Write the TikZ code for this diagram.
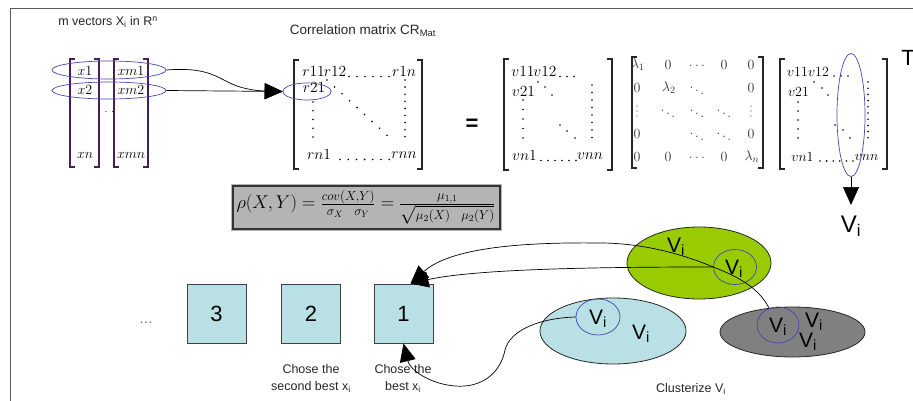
\documentclass[tikz,border=0pt]{standalone}
\usepackage{fix-cm}
\usepackage{amsmath}
\usepackage{fontspec}
\newfontfamily\arial{Liberation Sans}
\usetikzlibrary{arrows.meta,shapes.geometric,calc}
\definecolor{ellblue}{RGB}{70,70,170}
\definecolor{boxblue}{RGB}{185,224,228}
\definecolor{lgreen}{RGB}{153,204,0}
\definecolor{dgray}{RGB}{128,128,128}
\definecolor{fgray}{RGB}{180,180,180}
\definecolor{vecpurple}{RGB}{70,30,90}
\newcommand\mybrL[4]{\draw[#4] (#1+5,#2) -- (#1,#2) -- (#1,#3) -- (#1+5,#3);}
\newcommand\mybrR[4]{\draw[#4] (#1-5,#2) -- (#1,#2) -- (#1,#3) -- (#1-5,#3);}
\newcommand\mydot[2]{\fill (#1,#2) circle (0.9pt);}
\newcommand\smdot[2]{\fill[black!75] (#1,#2) circle (0.7pt);}
\tikzset{
  frame/.style={draw=black!65,line width=1.2pt},
  brk/.style={line width=1.7pt,black!85},
  thinbrk/.style={line width=1.3pt,black!85},
  vecbrk/.style={line width=1.1pt,vecpurple},
  blueell/.style={ellipse,draw=ellblue,line width=0.7pt,inner sep=0pt},
  bigell/.style={ellipse,draw=black!85,line width=0.8pt,inner sep=0pt},
  conn/.style={line width=0.7pt,black},
  bigtip/.style={-{Triangle[length=18pt,width=16pt]}},
  numbox/.style={draw=black!75,fill=boxblue,line width=1pt,minimum size=59pt,inner sep=0pt,font=\arial\fontsize{22}{24}\selectfont},
  vlab/.style={font=\arial\fontsize{21}{24}\selectfont,inner sep=0pt},
  lab/.style={font=\arial\fontsize{12.5}{17}\selectfont,align=center,inner sep=0pt,text=black!85},
  ent/.style={font=\fontsize{15.5}{16}\selectfont,inner sep=0pt},
  entb/.style={font=\fontsize{14}{15}\selectfont,inner sep=0pt},
  lam/.style={font=\fontsize{14}{15}\selectfont,inner sep=0pt,text=black!80},
}
\begin{document}
\begin{tikzpicture}[x=1pt,y=-1pt]
\useasboundingbox (0,0) rectangle (913,401);
\draw[frame] (913,8.5) -- (10.5,8.5) -- (10.5,401);

% ---------- left vectors ----------
\node[lab] (title1) at (108,22) {m vectors X\textsubscript{i} in R\textsuperscript{n}};
\mybrL{70}{59}{167}{vecbrk}
\mybrR{99}{59}{167}{vecbrk}
\mybrL{114}{59}{167}{vecbrk}
\mybrR{148}{59}{167}{vecbrk}
\node[entb] (x1) at (85,71) {$x$1};
\node[entb] (x2) at (85,90) {$x$2};
\node[entb] (xn) at (85,155) {$xn$};
\node[entb] (xm1) at (131,71) {$xm$1};
\node[entb] (xm2) at (131,90) {$xm$2};
\node[entb] (xmn) at (131,155) {$xmn$};
\node[inner sep=0pt] (vdots) at (106,112) {$\cdot\,\cdot\,\cdot$};
\node[blueell,minimum width=114pt,minimum height=18pt] (ve1) at (109,70) {};
\node[blueell,minimum width=114pt,minimum height=17pt] (ve2) at (109,90.5) {};

% ---------- correlation matrix ----------
\node[lab,font=\arial\fontsize{13.5}{16}\selectfont] (title2) at (363,31) {Correlation matrix CR\textsubscript{Mat}};
\mybrL{294}{60}{169}{brk}
\mybrR{422}{60}{169}{brk}
\node[ent] (r11) at (313.5,72) {$r11$};
\node[ent] (r12) at (335,72) {$r12$};
\node[ent] (r1n) at (404,72) {$r1n$};
\node[ent] (r21) at (314,88) {$r21$};
\node[ent] (rn1) at (319,155) {$rn1$};
\node[ent] (rnn) at (404,155) {$rnn$};
\foreach \i in {0,...,5} {\mydot{349+8*\i}{76.5}}
\foreach \i in {0,...,6} {\mydot{340+8.2*\i}{159.5}}
\foreach \i in {0,...,8} {\mydot{327+7.5*\i}{80+6.9*\i}}
\foreach \i in {0,...,4} {\mydot{313}{102+8.75*\i}}
\foreach \i in {0,...,8} {\mydot{405}{80+7.1*\i}}
\node[blueell,minimum width=48pt,minimum height=17pt] (r21e) at (307,91.5) {};

\draw[conn,bigtip] (ve1.east) .. controls (205,67) and (215,76) .. (232,84)
   .. controls (245,90) and (262,91) .. (r21e.west);
\draw[conn,bigtip] (ve2.east) -- (r21e.west);

% ---------- equals ----------
\node[font=\arial\bfseries\fontsize{22}{24}\selectfont,inner sep=0pt] (eq) at (472,125) {=};

% ---------- first V matrix ----------
\mybrL{504}{59}{170}{brk}
\mybrR{612}{59}{170}{brk}
\node[ent] (va11) at (523,72) {$v11$};
\node[ent] (va12) at (545,72) {$v12$};
\foreach \i in {0,...,2} {\mydot{560+7*\i}{76.5}}
\node[ent] (va21) at (523.5,92) {$v21$};
\mydot{538}{82}\mydot{545}{87}\mydot{552}{95}
\foreach \i in {0,...,4} {\mydot{523}{100+9.5*\i}}
\foreach \i in {0,...,7} {\mydot{592}{85+7.5*\i}}
\mydot{560}{125}\mydot{567}{131}\mydot{575}{138}
\node[ent] (van1) at (524.5,156) {$vn1$};
\foreach \i in {0,...,5} {\mydot{541+7*\i}{160.5}}
\node[ent] (vann) at (590,156) {$vnn$};

% ---------- lambda matrix ----------
\mybrL{632}{57}{168}{thinbrk}
\mybrR{763}{57}{168}{thinbrk}
\node[lam] (l11) at (638,65) {$\lambda_1$};
\node[lam] (l12) at (668,65) {0};
\node[lam] (l13) at (697,66) {$\ldots$};
\node[lam] (l14) at (724,65) {0};
\node[lam] (l15) at (751,65) {0};
\node[lam] (l21) at (637,88) {0};
\node[lam] (l22) at (669,88) {$\lambda_2$};
\node[lam] (l23) at (697,88) {$\ddots$};
\node[lam] (l25) at (751,88) {0};
\smdot{637}{106}\smdot{637}{111}\smdot{637}{116}
\node[lam] (l32) at (668,111) {$\ddots$};
\node[lam] (l33) at (697,111) {$\ddots$};
\node[lam] (l34) at (724,111) {$\ddots$};
\smdot{751}{106}\smdot{751}{111}\smdot{751}{116}
\node[lam] (l41) at (637,134) {0};
\node[lam] (l43) at (697,134) {$\ddots$};
\node[lam] (l44) at (724,134) {$\ddots$};
\node[lam] (l45) at (751,134) {0};
\node[lam] (l51) at (637,157) {0};
\node[lam] (l52) at (668,157) {0};
\node[lam] (l53) at (697,158) {$\ldots$};
\node[lam] (l54) at (724,157) {0};
\node[lam] (l55) at (752,157) {$\lambda_n$};

% ---------- second V matrix ----------
\mybrL{780}{59}{169}{brk}
\mybrR{887}{59}{169}{brk}
\node[entb] (vb11) at (797.5,72) {$v11$};
\node[entb] (vb12) at (818.5,72) {$v12$};
\foreach \i in {0,...,2} {\mydot{834+7*\i}{76}}
\node[entb] (vb21) at (798.5,92) {$v21$};
\mydot{814}{82}\mydot{822}{88}\mydot{828}{95}
\foreach \i in {0,...,4} {\mydot{798}{102+9*\i}}
\foreach \i in {0,...,9} {\mydot{868}{82+6.2*\i}}
\mydot{835}{125}\mydot{843}{130}\mydot{850}{138}
\node[entb] (vbn1) at (802.5,157) {$vn1$};
\foreach \i in {0,...,5} {\mydot{820+6.6*\i}{161}}
\node[entb] (vbnn) at (866.5,157) {$vnn$};
\node[font=\arial\fontsize{22}{24}\selectfont,inner sep=0pt] (T) at (908,58) {T};
\node[blueell,minimum width=28pt,minimum height=123pt] (vcol) at (851,115) {};
\node[font=\arial\fontsize{24}{26}\selectfont,inner sep=0pt] (vi) at (851,226) {V\textsubscript{i}};
\draw[conn,bigtip] (vcol.south) -- (851,205);

% ---------- formula ----------
\fill[fgray] (231,184) rectangle (502,231);
\draw[black!80,line width=1.2pt] (233,186) rectangle (500,229);
\node[inner sep=0pt,font=\fontsize{18.5}{20}\selectfont] (formula) at (366,207.5)
  {$\rho(X,Y)=\frac{cov(X,Y)}{\sigma_X\ \ \sigma_Y}=\frac{\mu_{1,1}}{\sqrt{\mu_2(X)\ \ \mu_2(Y)}}$};

% ---------- boxes ----------
\node[lab,font=\arial\fontsize{14}{16}\selectfont,text=black!60] (dots3) at (146,323) {\ldots};
\node[numbox] (b3) at (216.5,313.5) {3};
\node[numbox] (b2) at (311,313.5) {2};
\node[numbox] (b1) at (403.5,313.5) {1};
\node[lab] (c2) at (311,378) {Chose the\\second best x\textsubscript{i}};
\node[lab] (c1) at (403,378) {Chose the\\best x\textsubscript{i}};

% ---------- clusters ----------
\node[bigell,fill=lgreen,minimum width=144pt,minimum height=72pt] (ge) at (699,263) {};
\node[bigell,fill=boxblue,minimum width=146pt,minimum height=66pt] (le) at (613,331) {};
\node[bigell,fill=dgray,minimum width=145pt,minimum height=50pt] (de) at (792.5,332) {};
\node[blueell,minimum width=43pt,minimum height=35pt] (gcm) at (735,267) {};
\node[blueell,minimum width=44pt,minimum height=36pt] (lcm) at (598,317) {};
\node[blueell,minimum width=42pt,minimum height=36pt] (dcm) at (778,325) {};

\draw[conn,bigtip] (dcm.118) .. controls (760,290) and (742,278) .. (gcm.west)
   .. controls (680,253) and (640,243) .. (600,243)
   .. controls (520,242) and (450,248) .. ($(b1.north)+(7,0)$);
\draw[conn,bigtip] (gcm.west) .. controls (620,267) and (480,268) .. ($(b1.north)+(7,0)$);
\draw[conn,bigtip] (lcm.west) .. controls (540,318) and (510,330) .. (505,350)
   .. controls (500,375) and (480,388) .. (455,386)
   .. controls (430,384) and (410,370) .. (b1.south);

\node[vlab] (g1) at (676,247) {V\textsubscript{i}};
\node[vlab] (g2) at (734,269) {V\textsubscript{i}};
\node[vlab] (l1) at (598,319) {V\textsubscript{i}};
\node[vlab] (l2) at (641,334) {V\textsubscript{i}};
\node[vlab] (d1) at (778,327) {V\textsubscript{i}};
\node[vlab] (d2) at (814,322) {V\textsubscript{i}};
\node[vlab] (d3) at (808,342) {V\textsubscript{i}};
\node[lab] (clus) at (691,389) {Clusterize V\textsubscript{i}};
\end{tikzpicture}
\end{document}
